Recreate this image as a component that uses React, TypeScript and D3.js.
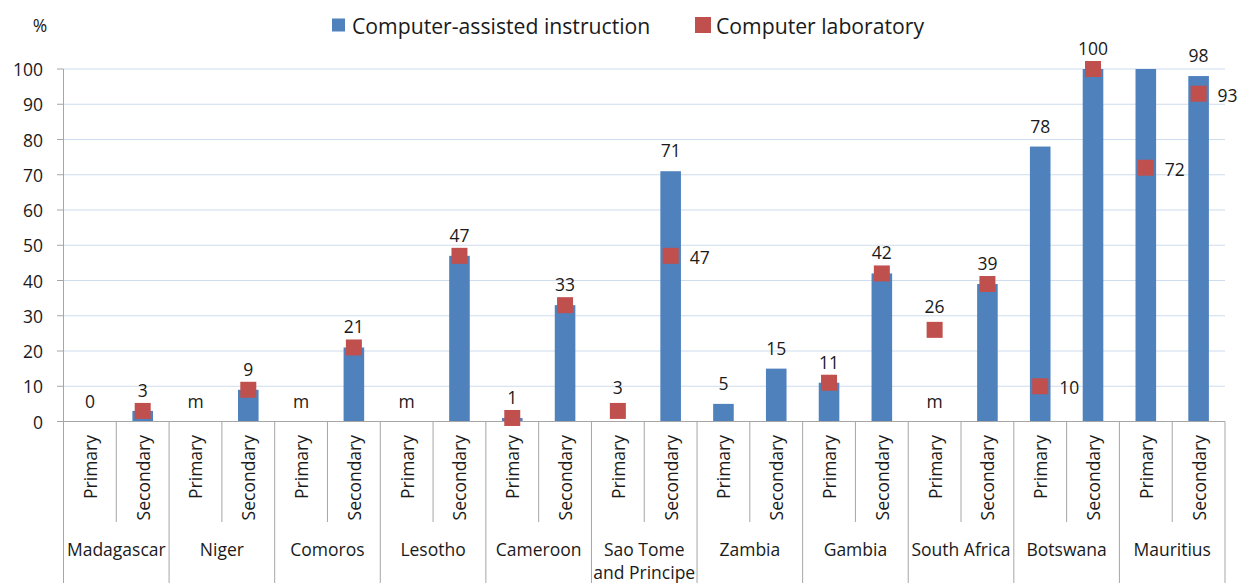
import React from "react";
import * as d3 from "d3";

const countries = ["Madagascar", "Niger", "Comoros", "Lesotho", "Cameroon", "Sao Tome|and Principe", "Zambia", "Gambia", "South Africa", "Botswana", "Mauritius"];
const levels = ["Primary", "Secondary"];

// Computer-assisted instruction (bars), null = missing / no bar
const caiValues: (number | null)[] = [0, 3, null, 9, null, 21, null, 47, 1, 33, null, 71, 5, 15, 11, 42, null, 39, 78, 100, 100, 98];
const caiLabels = ["0", "3", "m", "9", "m", "21", "m", "47", "1", "33", "", "71", "5", "15", "11", "42", "m", "39", "78", "100", "", "98"];

// Computer laboratory (markers)
const labValues: (number | null)[] = [null, 3, null, 9, null, 21, null, 47, 1, 33, 3, 47, null, null, 11, 42, 26, 39, 10, 100, 72, 93];
const labLabels = ["", "", "", "", "", "", "", "", "", "", "3", "47", "", "", "", "", "26", "", "10", "", "72", "93"];
const labLabelPos = ["", "", "", "", "", "", "", "", "", "", "above", "right", "", "", "", "", "above", "", "right", "", "right", "right"];

const yTicks = [0, 10, 20, 30, 40, 50, 60, 70, 80, 90, 100];
const legendItems = ["Computer-assisted instruction", "Computer laboratory"];

const W = 1239;
const H = 583;
const BLUE = "#4F81BD";
const RED = "#C0504D";
const GRID = "#cfdcee";
const AXIS = "#a6a6a6";
const TEXT = "#1a1a1a";
const FONT = "'Open Sans', sans-serif";

export default function App() {
  const slots = countries.flatMap((c, ci) => levels.map((l, li) => ({ key: ci * 2 + li, country: c, level: l })));
  const x = d3.scaleBand<number>().domain(slots.map((s) => s.key)).range([63.5, 1225]).padding(0);
  const y = d3.scaleLinear().domain([0, 100]).range([421.5, 69]);
  const bw = x.bandwidth();
  const barW = bw * 0.39;
  const mk = 16;
  const left = 63.5;
  const right = 1225;
  const y0 = y(0);

  const boundaries = d3.range(slots.length + 1).map((i) => (i < slots.length ? (x(i) as number) : right));

  return (
    <svg width={W} height={H} style={{ position: "absolute", left: 0, top: 0, background: "#fff" }} fontFamily={FONT}>
      {/* gridlines */}
      {yTicks.filter((t) => t > 0).map((t) => (
        <line key={"g" + t} x1={left} x2={right} y1={y(t)} y2={y(t)} stroke={GRID} strokeWidth={1.2} />
      ))}
      {/* y tick marks + labels */}
      {yTicks.map((t) => (
        <g key={"t" + t}>
          <line x1={57} x2={left} y1={y(t)} y2={y(t)} stroke={AXIS} strokeWidth={1} />
          <text x={43} y={y(t)} textAnchor="end" dominantBaseline="central" fontSize={17.5} fill={TEXT}>
            {t}
          </text>
        </g>
      ))}
      <text x={40} y={25} textAnchor="middle" dominantBaseline="central" fontSize={17.5} fill={TEXT}>%</text>

      {/* bars */}
      {slots.map((s, i) => {
        const v = caiValues[i];
        if (v === null || v === 0) return null;
        const cx = (x(s.key) as number) + bw / 2;
        return <rect key={"b" + i} x={cx - barW / 2} y={y(v)} width={barW} height={y0 - y(v)} fill={BLUE} />;
      })}

      {/* axes lines */}
      <line x1={57} x2={right} y1={y0} y2={y0} stroke={AXIS} strokeWidth={1} />
      <line x1={left} x2={left} y1={y(100)} y2={H} stroke={AXIS} strokeWidth={1} />
      {boundaries.map((bx, i) =>
        i === 0 ? null : (
          <line key={"d" + i} x1={bx} x2={bx} y1={y0} y2={i % 2 === 0 ? H : 522} stroke={AXIS} strokeWidth={1} />
        )
      )}

      {/* markers */}
      {slots.map((s, i) => {
        const v = labValues[i];
        if (v === null) return null;
        const cx = (x(s.key) as number) + bw / 2;
        return <rect key={"m" + i} x={cx - mk / 2} y={y(v) - mk / 2} width={mk} height={mk} fill={RED} />;
      })}

      {/* bar labels */}
      {slots.map((s, i) => {
        const lab = caiLabels[i];
        if (!lab) return null;
        const v = caiValues[i] ?? 0;
        const cx = (x(s.key) as number) + bw / 2;
        return (
          <text key={"bl" + i} x={cx} y={y(v) - 21} textAnchor="middle" dominantBaseline="central" fontSize={17.5} fill={TEXT}>
            {lab}
          </text>
        );
      })}

      {/* marker labels */}
      {slots.map((s, i) => {
        const lab = labLabels[i];
        const v = labValues[i];
        if (!lab || v === null) return null;
        const cx = (x(s.key) as number) + bw / 2;
        const pos = labLabelPos[i];
        return pos === "right" ? (
          <text key={"ml" + i} x={cx + 19} y={y(v) + 1} textAnchor="start" dominantBaseline="central" fontSize={17.5} fill={TEXT}>
            {lab}
          </text>
        ) : (
          <text key={"ml" + i} x={cx} y={y(v) - 24} textAnchor="middle" dominantBaseline="central" fontSize={17.5} fill={TEXT}>
            {lab}
          </text>
        );
      })}

      {/* level labels */}
      {slots.map((s) => {
        const cx = (x(s.key) as number) + bw / 2;
        return (
          <text key={"lv" + s.key} transform={`translate(${cx},435) rotate(-90)`} textAnchor="end" dominantBaseline="central" fontSize={17.5} fill={TEXT}>
            {s.level}
          </text>
        );
      })}

      {/* country labels */}
      {countries.map((c, ci) => {
        const cx = ((x(ci * 2) as number) + (ci * 2 + 2 < slots.length ? (x(ci * 2 + 2) as number) : right)) / 2;
        const lines = c.split("|");
        return (
          <text key={"c" + ci} x={cx} textAnchor="middle" fontSize={17.5} fill={TEXT}>
            {lines.map((ln, li) => (
              <tspan key={li} x={cx} y={549 + li * 23} dominantBaseline="central">
                {ln}
              </tspan>
            ))}
          </text>
        );
      })}

      {/* legend */}
      <rect x={332} y={18.5} width={13} height={13} fill={BLUE} />
      <text x={352} y={25} dominantBaseline="central" fontSize={21.2} fill={TEXT}>{legendItems[0]}</text>
      <rect x={695} y={17} width={16} height={16} fill={RED} />
      <text x={716} y={25} dominantBaseline="central" fontSize={21.2} fill={TEXT}>{legendItems[1]}</text>
    </svg>
  );
}
